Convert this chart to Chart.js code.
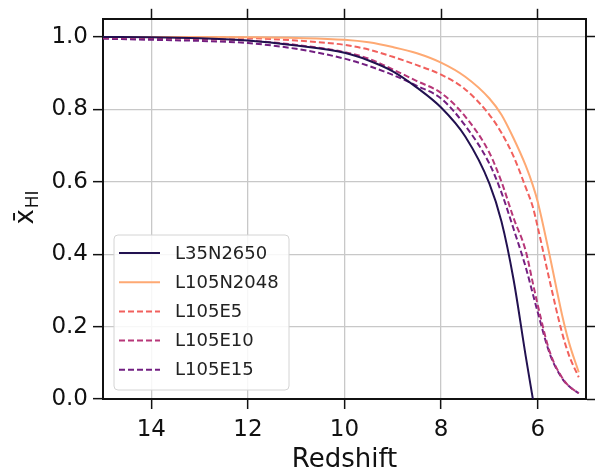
<!DOCTYPE html>
<html>
<head>
<meta charset="utf-8">
<script src="https://cdn.jsdelivr.net/npm/chart.js@4"></script>
<style>
  html, body { margin: 0; padding: 0; background: #fff; }
  #wrap { width: 595px; height: 473px; }
</style>
</head>
<body>
<div id="wrap"><canvas id="grafico" width="595" height="473"></canvas></div>
<script>
// redshift grid shared by all runs
const redshift = [15, 14, 13, 12, 11, 10, 9.5, 9, 8.5, 8, 7.5, 7, 6.75, 6.5, 6.25, 6.1, 6.0, 5.75, 5.5, 5.35, 5.15];

const L35N2650  = [1.0, 0.999, 0.996, 0.99, 0.976, 0.956, 0.935, 0.905, 0.86, 0.805, 0.725, 0.595, 0.49, 0.33, 0.12, 0.0, null, null, null, null, null];
const L105N2048 = [1.0, 1.0, 1.0, 0.999, 0.997, 0.992, 0.985, 0.972, 0.955, 0.929, 0.89, 0.83, 0.785, 0.72, 0.645, 0.59, 0.545, 0.395, 0.235, 0.155, 0.074];
const L105E5    = [1.0, 1.0, 0.999, 0.997, 0.99, 0.978, 0.965, 0.945, 0.922, 0.896, 0.855, 0.785, 0.735, 0.67, 0.585, 0.53, 0.475, 0.325, 0.185, 0.12, 0.06];
const L105E10   = [0.998, 0.997, 0.994, 0.99, 0.978, 0.958, 0.94, 0.91, 0.878, 0.845, 0.78, 0.68, 0.6, 0.5, 0.41, 0.32, 0.26, 0.13, 0.06, 0.035, 0.016];
const L105E15   = [0.995, 0.992, 0.989, 0.983, 0.967, 0.94, 0.92, 0.895, 0.865, 0.83, 0.755, 0.65, 0.57, 0.47, 0.365, 0.29, 0.24, 0.125, 0.058, 0.035, 0.016];

const xTicks = [14, 12, 10, 8, 6];
const yTicks = [0, 0.2, 0.4, 0.6, 0.8, 1.0];

function pts(vals) {
  return redshift.map((z, i) => ({ x: z, y: vals[i] }));
}

const FONT = "'DejaVu Sans', sans-serif";

function ds(label, vals, color, dashed) {
  return {
    label: label,
    data: pts(vals),
    borderColor: color,
    backgroundColor: color,
    borderWidth: 2,
    borderDash: dashed ? [6, 3] : [],
    pointRadius: 0,
    cubicInterpolationMode: 'monotone',
    spanGaps: false
  };
}

// legend drawn inside the plot, lower left
const legendBox = {
  id: 'legendBox',
  afterDatasetsDraw(chart) {
    const ctx = chart.ctx;
    const x0 = 114, y0 = 235, w = 175, h = 155;
    ctx.save();
    ctx.beginPath();
    ctx.roundRect(x0, y0, w, h, 4);
    ctx.fillStyle = 'rgba(255,255,255,0.85)';
    ctx.fill();
    ctx.strokeStyle = '#d4d4d4';
    ctx.lineWidth = 1;
    ctx.stroke();
    chart.data.datasets.forEach((d, i) => {
      const y = 253 + i * 29.2;
      ctx.beginPath();
      ctx.setLineDash(d.borderDash);
      ctx.strokeStyle = d.borderColor;
      ctx.lineWidth = 2;
      ctx.moveTo(119, y);
      ctx.lineTo(160, y);
      ctx.stroke();
      ctx.setLineDash([]);
      ctx.fillStyle = '#222';
      ctx.font = '18px ' + FONT;
      ctx.textBaseline = 'middle';
      ctx.fillText(d.label, 175, y + 1);
    });
    ctx.restore();
  }
};

// y axis title: x-bar with subscript HI
const yTitle = {
  id: 'yTitle',
  afterDraw(chart) {
    const ctx = chart.ctx;
    ctx.save();
    ctx.translate(33, 208);
    ctx.rotate(-Math.PI / 2);
    ctx.fillStyle = '#111';
    ctx.textBaseline = 'alphabetic';
    ctx.font = '26px ' + FONT;
    const main = 'x\u0304';
    const wMain = ctx.measureText('x').width;
    ctx.font = '17px ' + FONT;
    const wSub = ctx.measureText('HI').width;
    const start = -(wMain + wSub) / 2;
    ctx.font = '26px ' + FONT;
    ctx.fillText(main, start, 0);
    ctx.font = '17px ' + FONT;
    ctx.fillText('HI', start + wMain + 1, 5);
    ctx.restore();
  }
};

new Chart(document.getElementById('grafico'), {
  type: 'line',
  data: {
    datasets: [
      ds('L35N2650', L35N2650, '#221150', false),
      ds('L105N2048', L105N2048, '#fea973', false),
      ds('L105E5', L105E5, '#f1605d', true),
      ds('L105E10', L105E10, '#b73779', true),
      ds('L105E15', L105E15, '#721f81', true)
    ]
  },
  options: {
    responsive: false,
    animation: false,
    layout: { padding: 0 },
    plugins: {
      legend: { display: false },
      tooltip: { enabled: false }
    },
    scales: {
      x: {
        type: 'linear',
        position: 'bottom',
        min: 5, max: 15,
        reverse: true,
        afterBuildTicks: s => { s.ticks = xTicks.map(v => ({ value: v })); },
        afterFit: s => { s.height = 74; },
        ticks: { color: '#111', font: { family: FONT, size: 23 }, padding: 7, maxRotation: 0 },
        grid: { color: '#c8c8c8', lineWidth: 1.3, tickLength: 10, tickColor: '#111', tickWidth: 1.5 },
        border: { color: '#111', width: 2 },
        title: { display: true, text: 'Redshift', color: '#111', font: { family: FONT, size: 26 }, padding: { top: 0, bottom: -3 } }
      },
      x2: {
        type: 'linear',
        position: 'top',
        min: 5, max: 15,
        reverse: true,
        afterBuildTicks: s => { s.ticks = xTicks.map(v => ({ value: v })); },
        afterFit: s => { s.height = 16; },
        ticks: { display: false },
        grid: { drawOnChartArea: false, tickLength: 10, tickColor: '#111', tickWidth: 1.5 },
        border: { color: '#111', width: 2 }
      },
      y: {
        type: 'linear',
        position: 'left',
        min: 0, max: 1.05,
        afterBuildTicks: s => { s.ticks = yTicks.map(v => ({ value: v })); },
        afterFit: s => { s.width = 103; },
        ticks: { color: '#111', font: { family: FONT, size: 23 }, padding: 5, callback: v => v.toFixed(1) },
        grid: { color: '#c8c8c8', lineWidth: 1.3, tickLength: 10, tickColor: '#111', tickWidth: 1.5 },
        border: { color: '#111', width: 2 }
      },
      y2: {
        type: 'linear',
        position: 'right',
        min: 0, max: 1.05,
        afterBuildTicks: s => { s.ticks = yTicks.map(v => ({ value: v })); },
        afterFit: s => { s.width = 9; },
        ticks: { display: false },
        grid: { drawOnChartArea: false, tickLength: 10, tickColor: '#111', tickWidth: 1.5 },
        border: { color: '#111', width: 2 }
      }
    }
  },
  plugins: [legendBox, yTitle]
});
</script>
</body>
</html>
